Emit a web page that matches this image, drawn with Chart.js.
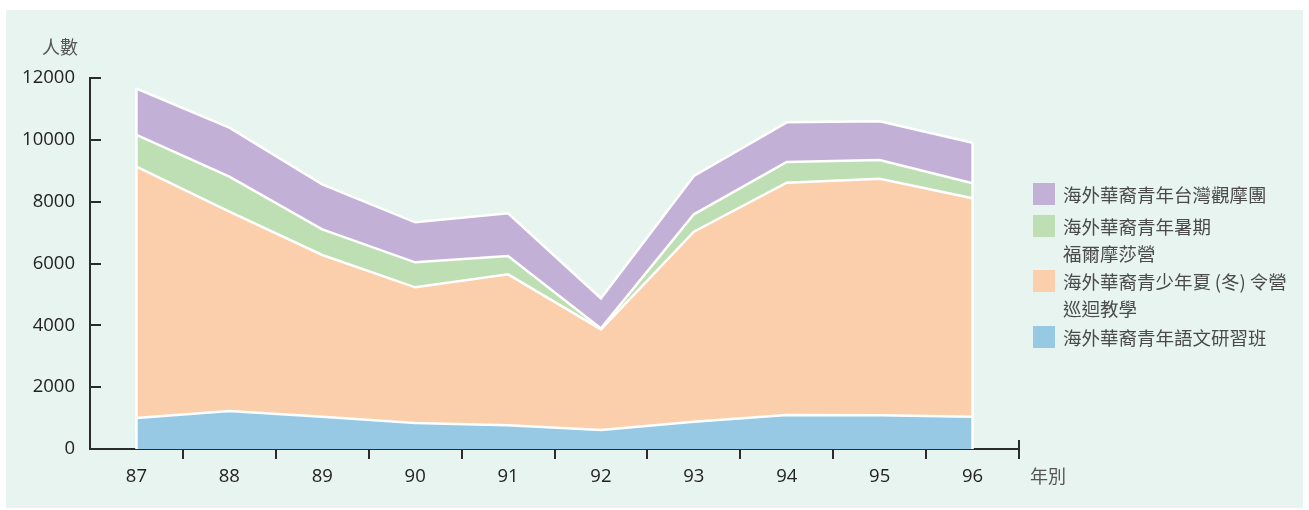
<!DOCTYPE html>
<html>
<head>
<meta charset="utf-8">
<script src="https://cdn.jsdelivr.net/npm/chart.js@4.4.1/dist/chart.umd.min.js"></script>
<style>
  html, body { margin:0; padding:0; background:#ffffff; width:1309px; height:510px; overflow:hidden; }
  #panel { position:absolute; left:6px; top:10px; width:1297px; height:498px; background:#e7f4ef; }
  #wrap { position:absolute; left:0; top:0; width:1309px; height:510px; }
  .axt { position:absolute; font-family:"Noto Sans CJK TC","Noto Sans",sans-serif; font-size:18px; color:#555; line-height:1; white-space:nowrap; }
  #legend { position:absolute; left:1033px; top:0; font-family:"Noto Sans CJK TC","Noto Sans",sans-serif; color:#4a4a4a; }
  .li { position:absolute; left:0; white-space:nowrap; }
  .sw { position:absolute; left:0; width:22px; height:22px; }
  .lt { position:absolute; left:30px; font-size:18.5px; line-height:27px; }
</style>
</head>
<body>
<div id="panel"></div>
<div id="wrap"><canvas id="c" width="1309" height="510"></canvas></div>
<div class="axt" id="ytitle" style="left:42px; top:37px;">人數</div>
<div class="axt" id="xtitle" style="left:1030px; top:466px;">年別</div>
<div id="legend"></div>
<script>
// ---- data ----
const years = ['87','88','89','90','91','92','93','94','95','96'];
const languageClass = [1000, 1230, 1045, 840, 766, 615, 883, 1100, 1090, 1045];
const summerCamp    = [8130, 6446, 5230, 4390, 4884, 3256, 6146, 7514, 7653, 7063];
const formosaCamp   = [1027, 1132, 831, 808, 593, 30, 562, 669, 605, 485];
const taiwanTour    = [1503, 1585, 1455, 1294, 1380, 974, 1239, 1284, 1251, 1315];
const seriesNames = ['海外華裔青年語文研習班', '海外華裔青少年夏\u2009(冬) 令營\n巡迴教學', '海外華裔青年暑期\n福爾摩莎營', '海外華裔青年台灣觀摩團'];
const seriesColors = ['#97c9e4', '#fbcfab', '#bddfb3', '#c3b0d7'];
const yMax = 12000, yStep = 2000;

const seriesValues = [languageClass, summerCamp, formosaCamp, taiwanTour];
const datasets = seriesValues.map((vals, i) => ({
  label: seriesNames[i],
  data: vals,
  backgroundColor: seriesColors[i],
  borderColor: '#ffffff',
  borderWidth: 2.5,
  pointRadius: 0,
  tension: 0,
  fill: i === 0 ? 'origin' : '-1'
}));

const axisColor = '#2b2b2b';
const extras = {
  id: 'extras',
  afterDatasetsDraw(chart) {
    const ctx = chart.ctx, x = chart.scales.x, y = chart.scales.y;
    ctx.save();
    ctx.strokeStyle = '#ffffff';
    ctx.lineWidth = 2.5;
    [0, years.length - 1].forEach(i => {
      const total = seriesValues.reduce((s, v) => s + v[i], 0);
      const px = x.getPixelForValue(i);
      ctx.beginPath();
      ctx.moveTo(px, y.getPixelForValue(0));
      ctx.lineTo(px, y.getPixelForValue(total));
      ctx.stroke();
    });
    ctx.restore();
  },
  afterDraw(chart) {
    const ctx = chart.ctx, x = chart.scales.x, y = chart.scales.y, a = chart.chartArea;
    ctx.save();
    ctx.strokeStyle = axisColor;
    ctx.lineWidth = 2;
    y.ticks.forEach(t => {
      const py = Math.round(y.getPixelForValue(t.value));
      ctx.beginPath();
      ctx.moveTo(a.left, py);
      ctx.lineTo(a.left + 11, py);
      ctx.stroke();
    });
    ctx.beginPath();
    ctx.moveTo(a.right, a.bottom);
    ctx.lineTo(a.right, a.bottom - 9);
    ctx.stroke();
    ctx.restore();
  }
};

new Chart(document.getElementById('c'), {
  type: 'line',
  data: { labels: years, datasets },
  options: {
    responsive: false,
    animation: false,
    layout: { padding: { left: 0, top: 78, right: 290, bottom: 0 } },
    plugins: { legend: { display: false }, tooltip: { enabled: false } },
    scales: {
      x: {
        offset: true,
        afterFit: s => { s.height = 61; },
        grid: {
          offset: true,
          drawOnChartArea: false,
          drawTicks: true,
          tickLength: 10,
          lineWidth: 2,
          color: c => (c.index === 0 || c.index >= years.length) ? 'rgba(0,0,0,0)' : axisColor
        },
        border: { color: axisColor, width: 2 },
        ticks: { color: '#222', font: { family: '"Open Sans", sans-serif', size: 18.5 }, padding: 7, maxRotation: 0 }
      },
      y: {
        stacked: true,
        min: 0, max: yMax,
        afterFit: s => { s.width = 90; },
        grid: { drawOnChartArea: false, drawTicks: false },
        border: { color: axisColor, width: 2 },
        ticks: { stepSize: yStep, color: '#222', font: { family: '"Open Sans", sans-serif', size: 18.5 }, padding: 15,
                 callback: v => String(v) }
      }
    }
  },
  plugins: [extras]
});

// ---- HTML legend (top series first) ----
const legendTops = [326, 270, 215, 183];
const legend = document.getElementById('legend');
for (let i = seriesNames.length - 1; i >= 0; i--) {
  const item = document.createElement('div');
  item.className = 'li';
  item.style.top = legendTops[i] + 'px';
  const sw = document.createElement('div');
  sw.className = 'sw';
  sw.style.background = seriesColors[i];
  const tx = document.createElement('div');
  tx.className = 'lt';
  tx.style.top = '-2px';
  seriesNames[i].split('\n').forEach(line => {
    const d = document.createElement('div');
    d.textContent = line;
    tx.appendChild(d);
  });
  item.appendChild(sw);
  item.appendChild(tx);
  legend.appendChild(item);
}
</script>
</body>
</html>
